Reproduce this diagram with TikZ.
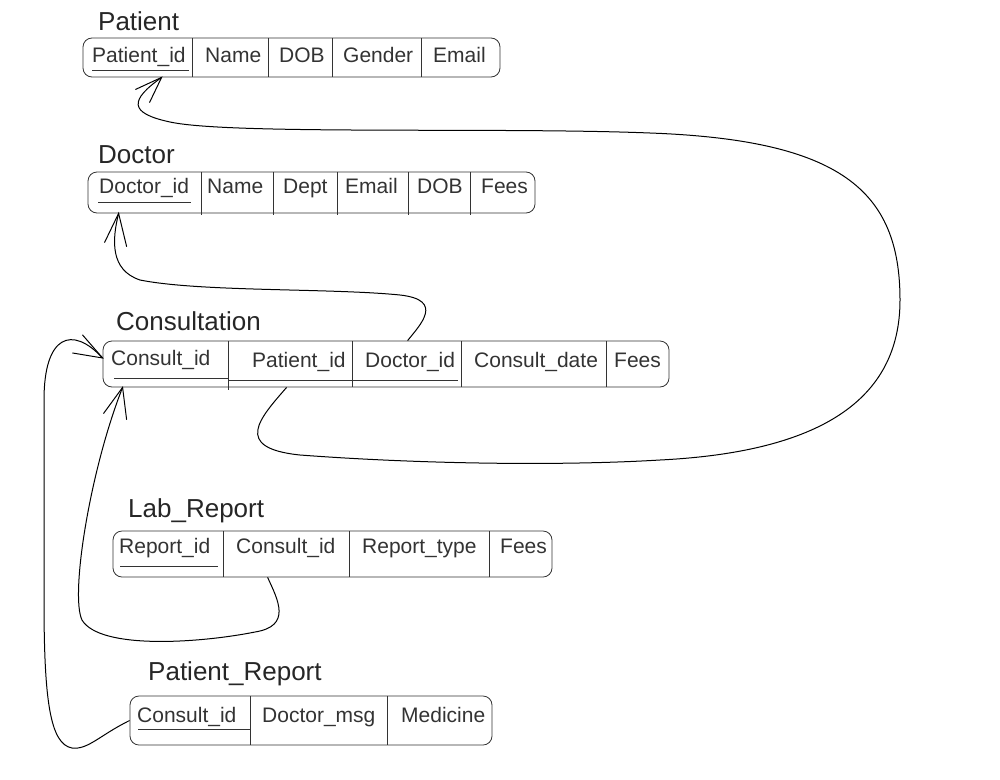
\documentclass[tikz,border=0pt]{standalone}
\usepackage{fontspec}
\setmainfont{Liberation Sans}

\begin{document}
\begin{tikzpicture}[x = 1pt, y = -1pt,
	tbl/.style = {draw = black!80, line width = 0.8pt, rounded corners = 9pt, inner sep = 0},
	attr/.style = {anchor = base west, inner sep = 0, text = black!80, font = \fontsize{21}{25}\selectfont},
	ttl/.style = {anchor = base west, inner sep = 0, text = black!85, font = \fontsize{26}{30}\selectfont},
	sep/.style = {draw = black!80, line width = 0.7pt},
	link/.style = {line width = 1pt},
	barb/.style = {line width = 1pt, line cap = round}]
	\useasboundingbox (0, 0) rectangle (1000, 779);

	% Patient
	\node[ttl] (patient-t) at (98, 30) {Patient};
	\node[tbl, minimum width = 417, minimum height = 39] (patient) at (291.5, 57.5) {};
	\foreach \x/\txt/\nm in {92/Patient\_id/pid, 205/Name/name, 279/DOB/dob, 343/Gender/gen, 433/Email/mail}{
		\node[attr] (pat-\nm) at (\x, 62) {\txt};}
	\foreach \x in {192, 268, 332, 421}{
		\draw[sep] (\x, 38) -- (\x, 77);}
	\draw[sep] (92, 70) -- (189, 70);

	% Doctor
	\node[ttl] (doctor-t) at (98, 163) {Doctor};
	\node[tbl, minimum width = 447, minimum height = 41] (doctor) at (311.5, 192.5) {};
	\foreach \x/\txt/\nm in {99/Doctor\_id/did, 207/Name/name, 283/Dept/dept, 345/Email/mail, 417/DOB/dob, 481/Fees/fees}{
		\node[attr] (doc-\nm) at (\x, 193) {\txt};}
	\foreach \x in {201, 273, 337, 408, 470}{
		\draw[sep] (\x, 172) -- (\x, 215);}
	\draw[sep] (98, 202) -- (191, 202);

	% Consultation
	\node[ttl] (consult-t) at (116, 330) {Consultation};
	\node[tbl, minimum width = 566, minimum height = 46] (consult) at (386, 364) {};
	\node[attr] (cons-cid) at (111, 365) {Consult\_id};
	\foreach \x/\txt/\nm in {252/Patient\_id/pid, 365/Doctor\_id/did, 474/Consult\_date/date, 614/Fees/fees}{
		\node[attr] (cons-\nm) at (\x, 367) {\txt};}
	\draw[sep] (228, 341) -- (228, 390);
	\foreach \x in {352, 461, 606}{
		\draw[sep] (\x, 341) -- (\x, 387);}
	\draw[sep] (114, 378) -- (228, 378);
	\draw[sep] (228, 380) -- (458, 380);

	% Lab_Report
	\node[ttl] (lab-t) at (128, 517) {Lab\_Report};
	\node[tbl, minimum width = 439, minimum height = 46] (lab) at (332.5, 554) {};
	\foreach \x/\txt/\nm in {119/Report\_id/rid, 236/Consult\_id/cid, 362/Report\_type/type, 500/Fees/fees}{
		\node[attr] (lab-\nm) at (\x, 553) {\txt};}
	\foreach \x in {223, 349, 489}{
		\draw[sep] (\x, 531) -- (\x, 577);}
	\draw[sep] (120, 566) -- (218, 566);

	% Patient_Report
	\node[ttl] (prep-t) at (148, 680) {Patient\_Report};
	\node[tbl, minimum width = 362, minimum height = 49] (prep) at (311, 720.5) {};
	\foreach \x/\txt/\nm in {137/Consult\_id/cid, 262/Doctor\_msg/msg, 401/Medicine/med}{
		\node[attr] (prep-\nm) at (\x, 722) {\txt};}
	\foreach \x in {250, 387}{
		\draw[sep] (\x, 696) -- (\x, 745);}
	\draw[sep] (138, 729) -- (250, 729);

	% link ends
	\coordinate (pat-in) at ([xshift = 79]patient.south west);
	\coordinate (doc-in) at ([xshift = 31]doctor.south west);
	\coordinate (cons-in-l) at ([yshift = 6]consult.west);
	\coordinate (cons-in-b) at ([xshift = 20]consult.south west);

	% links
	\draw[link] (prep.west) .. controls (100, 735) and (88, 750) .. (72, 748)
		.. controls (50, 744) and (44, 700) .. (44, 600)
		-- (44, 400) .. controls (44, 335) and (72, 325) .. (cons-in-l);
	\draw[link] ([xshift = 155]lab.south west) .. controls (278, 600) and (292, 626) .. (255, 632)
		.. controls (200, 643) and (100, 650) .. (82, 620)
		.. controls (70, 595) and (90, 470) .. (cons-in-b);
	\draw[link] ([xshift = 184]consult.south west) .. controls (260, 418) and (232, 448) .. (300, 455)
		.. controls (420, 464) and (560, 466) .. (660, 460)
		.. controls (820, 452) and (900, 400) .. (900, 300)
		.. controls (900, 190) and (840, 140) .. (650, 133)
		.. controls (500, 127) and (230, 135) .. (170, 122)
		.. controls (128, 113) and (130, 100) .. (pat-in);
	\draw[link] ([xshift = 305]consult.north west) .. controls (420, 325) and (445, 300) .. (400, 295)
		.. controls (330, 288) and (200, 292) .. (140, 280)
		.. controls (110, 270) and (112, 240) .. (doc-in);

	% open arrow heads
	\foreach \tip/\ax/\ay/\bx/\by in {pat-in/-26/12/-12/25, doc-in/-14/29/8/33, cons-in-l/-20/-23/-30/-5, cons-in-b/-19/26/4/32}{
		\draw[barb] (\tip) ++(\ax, \ay) -- (\tip) -- ++(\bx, \by);}
\end{tikzpicture}
\end{document}
